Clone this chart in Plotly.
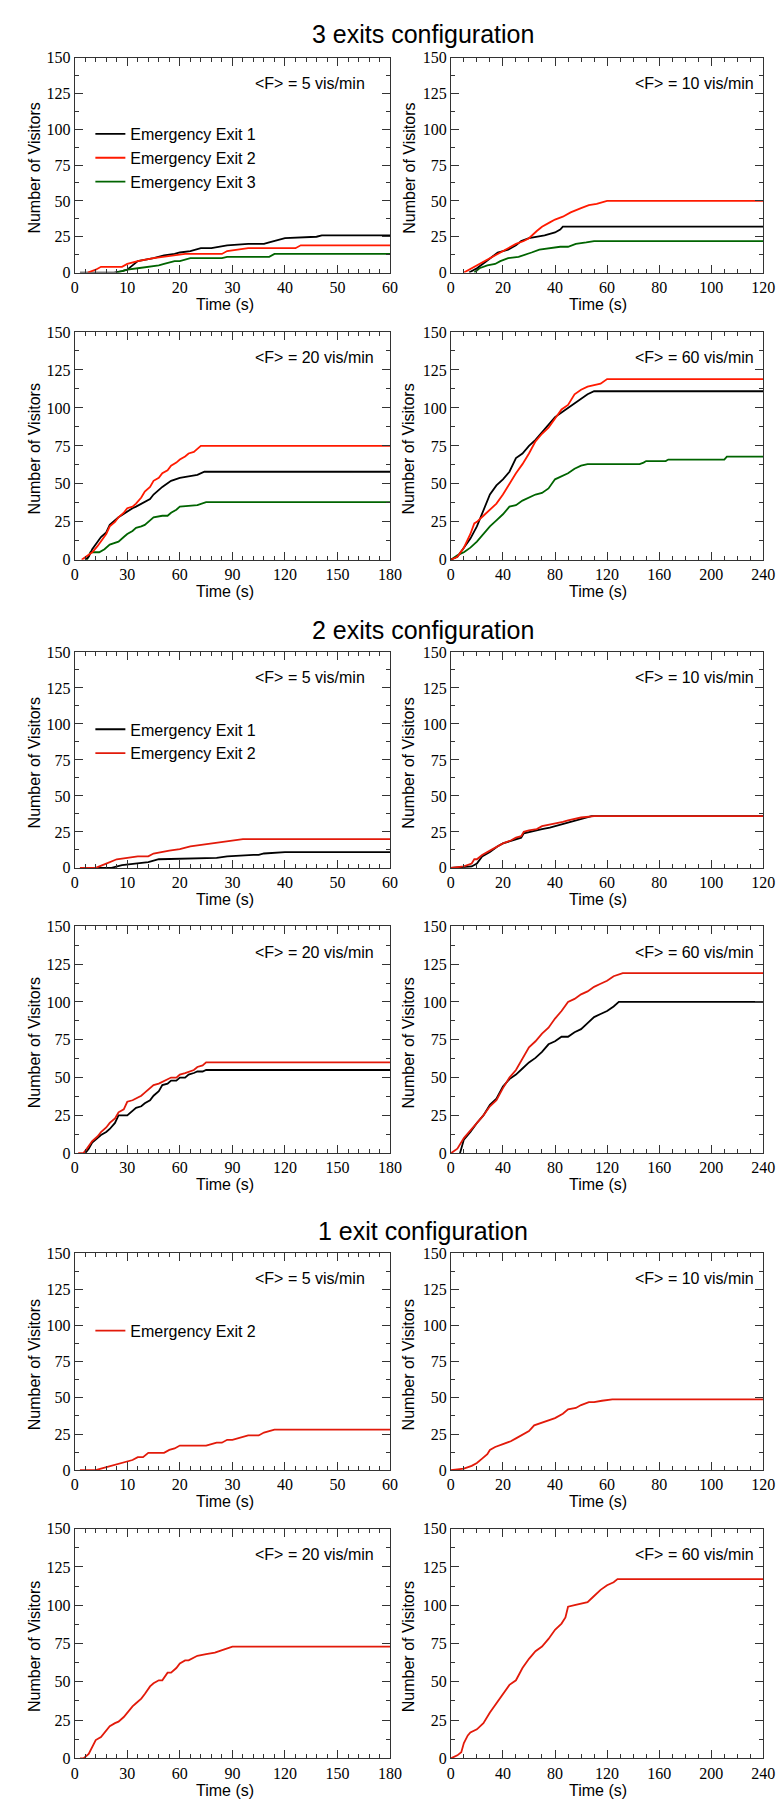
import plotly.graph_objects as go

# ---------------- data ----------------
# 3 exits configuration
C3_F5_E1_t = [1, 7.5, 9, 10, 11, 12, 15, 17, 19, 20, 22, 24, 26, 29, 33, 36, 37, 39, 40, 46, 47, 60]
C3_F5_E1_n = [0, 0, 1, 2, 5, 8, 10, 12, 13, 14, 15, 17, 17, 19, 20, 20, 21, 23, 24, 25, 26, 26]
C3_F5_E2_t = [2.5, 4, 5, 9, 10, 11, 12, 15, 17, 18, 21, 28, 29, 31, 33, 42, 43, 60]
C3_F5_E2_n = [0, 2, 4, 4, 6, 7, 8, 10, 11, 12, 13, 13, 15, 16, 17, 17, 19, 19]
C3_F5_E3_t = [8, 10, 12, 14, 15, 16, 17, 19, 20, 22, 28, 29, 37, 38, 60]
C3_F5_E3_n = [0, 2, 3, 4, 4, 5, 6, 8, 8, 10, 10, 11, 11, 13, 13]

C3_F10_E1_t = [7, 10, 13, 15, 18, 20, 22, 25, 27, 30, 33, 36, 40, 42, 43, 120]
C3_F10_E1_n = [0, 3, 7, 10, 14, 15, 16, 19, 22, 24, 25, 26, 28, 30, 32, 32]
C3_F10_E2_t = [5, 8, 10, 13, 16, 20, 23, 25, 28, 30, 33, 35, 38, 40, 43, 46, 50, 53, 56, 58, 60, 120]
C3_F10_E2_n = [0, 3, 5, 8, 11, 15, 18, 20, 22, 24, 29, 32, 35, 37, 39, 42, 45, 47, 48, 49, 50, 50]
C3_F10_E3_t = [9, 11, 14, 17, 19, 22, 26, 28, 31, 34, 38, 42, 45, 48, 52, 55, 57, 120]
C3_F10_E3_n = [0, 3, 5, 6, 8, 10, 11, 12, 14, 16, 17, 18, 18, 20, 21, 22, 22, 22]

C3_F20_E1_t = [6, 8, 10, 12, 15, 18, 20, 25, 30, 33, 35, 40, 43, 45, 50, 55, 58, 60, 65, 70, 74, 180]
C3_F20_E1_n = [0, 2, 7, 10, 15, 18, 23, 28, 32, 34, 35, 38, 40, 43, 48, 52, 53, 54, 55, 56, 58, 58]
C3_F20_E2_t = [4, 8, 10, 13, 15, 18, 20, 23, 25, 28, 30, 33, 35, 38, 40, 43, 45, 48, 50, 53, 55, 58, 60, 63, 65, 68, 70, 72, 180]
C3_F20_E2_n = [0, 3, 5, 9, 12, 17, 22, 25, 28, 31, 34, 35, 37, 41, 45, 48, 52, 54, 57, 59, 62, 64, 66, 68, 70, 71, 73, 75, 75]
C3_F20_E3_t = [7, 8, 9, 14, 17, 20, 23, 25, 28, 30, 33, 35, 38, 40, 43, 45, 50, 53, 55, 58, 60, 70, 75, 180]
C3_F20_E3_n = [0, 3, 5, 5, 7, 10, 11, 12, 15, 17, 19, 21, 22, 23, 26, 28, 29, 29, 31, 33, 35, 36, 38, 38]

C3_F60_E1_t = [0, 5, 10, 15, 20, 25, 30, 35, 40, 45, 50, 55, 60, 65, 70, 75, 80, 85, 90, 95, 100, 105, 110, 240]
C3_F60_E1_n = [0, 2, 8, 14, 22, 32, 43, 49, 53, 58, 67, 70, 75, 79, 84, 89, 94, 97, 100, 103, 106, 109, 111, 111]
C3_F60_E2_t = [0, 5, 10, 15, 18, 20, 25, 30, 35, 40, 45, 50, 55, 60, 65, 70, 75, 80, 85, 90, 95, 100, 105, 110, 115, 120, 240]
C3_F60_E2_n = [0, 2, 8, 17, 24, 25, 29, 33, 37, 43, 50, 57, 63, 70, 78, 83, 87, 93, 99, 102, 109, 112, 114, 115, 116, 119, 119]
C3_F60_E3_t = [0, 5, 10, 15, 20, 25, 30, 35, 40, 45, 50, 55, 60, 65, 70, 75, 80, 85, 90, 95, 100, 105, 145, 148, 150, 165, 167, 210, 212, 240]
C3_F60_E3_n = [0, 3, 5, 8, 12, 17, 22, 26, 30, 35, 36, 39, 41, 43, 44, 47, 53, 55, 57, 60, 62, 63, 63, 64, 65, 65, 66, 66, 68, 68]

# 2 exits configuration
C2_F5_E1_t = [1, 7, 9, 12, 14, 15, 16, 27, 29, 34, 35, 36, 40, 60]
C2_F5_E1_n = [0, 0, 2, 3, 4, 5, 6, 7, 8, 9, 9, 10, 11, 11]
C2_F5_E2_t = [1, 4, 6, 8, 10, 12, 14, 15, 18, 20, 22, 24, 25, 27, 28, 30, 32, 60]
C2_F5_E2_n = [0, 0, 3, 6, 7, 8, 8, 10, 12, 13, 15, 16, 17, 18, 18, 19, 20, 20]

C2_F10_E1_t = [0, 8, 10, 12, 15, 18, 20, 22, 25, 27, 28, 30, 33, 35, 38, 40, 43, 45, 48, 50, 54, 120]
C2_F10_E1_n = [0, 1, 3, 8, 11, 15, 17, 18, 20, 21, 24, 25, 26, 27, 28, 29, 31, 32, 33, 34, 36, 36]
C2_F10_E2_t = [0, 5, 8, 9, 10, 12, 15, 18, 20, 23, 25, 27, 28, 30, 33, 35, 38, 40, 43, 45, 48, 50, 55, 120]
C2_F10_E2_n = [0, 1, 3, 6, 6, 9, 12, 15, 17, 19, 21, 22, 25, 26, 27, 29, 30, 31, 32, 33, 34, 35, 36, 36]

C2_F20_E1_t = [6, 8, 10, 13, 15, 18, 20, 23, 25, 30, 32, 35, 38, 40, 43, 45, 48, 50, 53, 55, 58, 60, 63, 65, 68, 70, 73, 75, 180]
C2_F20_E1_n = [0, 3, 7, 10, 12, 14, 16, 20, 25, 25, 27, 30, 31, 33, 35, 38, 41, 45, 46, 48, 48, 50, 50, 52, 53, 54, 54, 55, 55]
C2_F20_E2_t = [2, 5, 7, 10, 13, 15, 18, 20, 23, 25, 28, 30, 33, 35, 38, 40, 43, 45, 48, 50, 53, 55, 58, 60, 63, 65, 68, 70, 73, 75, 180]
C2_F20_E2_n = [0, 0, 3, 8, 11, 14, 17, 20, 23, 27, 29, 34, 35, 36, 38, 40, 43, 45, 46, 47, 49, 50, 50, 52, 53, 54, 55, 57, 58, 60, 60]

C2_F60_E1_t = [7, 10, 15, 20, 25, 30, 35, 40, 45, 50, 55, 60, 65, 70, 75, 80, 85, 90, 95, 100, 105, 110, 115, 120, 125, 129, 240]
C2_F60_E1_n = [0, 9, 14, 20, 25, 32, 36, 44, 49, 52, 56, 60, 63, 67, 72, 74, 77, 77, 80, 82, 86, 90, 92, 94, 97, 100, 100]
C2_F60_E2_t = [0, 5, 10, 15, 20, 25, 30, 35, 40, 45, 50, 55, 60, 65, 70, 75, 80, 85, 90, 95, 100, 105, 110, 115, 120, 125, 132, 240]
C2_F60_E2_n = [0, 3, 10, 15, 20, 25, 31, 35, 43, 50, 55, 63, 70, 74, 79, 83, 89, 94, 100, 102, 105, 107, 110, 112, 114, 117, 119, 119]

# 1 exit configuration
C1_F5_E2_t = [1, 4, 5, 7, 9, 10, 11, 12, 13, 14, 17, 18, 19, 20, 25, 26, 27, 28, 29, 30, 31, 32, 33, 35, 36, 37, 38, 60]
C1_F5_E2_n = [0, 0, 1, 3, 5, 6, 7, 9, 9, 12, 12, 14, 15, 17, 17, 18, 19, 19, 21, 21, 22, 23, 24, 24, 26, 27, 28, 28]
C1_F10_E2_t = [0, 5, 8, 10, 12, 14, 15, 17, 20, 23, 25, 28, 30, 32, 35, 38, 40, 43, 45, 48, 50, 53, 55, 58, 62, 120]
C1_F10_E2_n = [0, 1, 3, 5, 8, 11, 14, 16, 18, 20, 22, 25, 27, 31, 33, 35, 36, 39, 42, 43, 45, 47, 47, 48, 49, 49]
C1_F20_E2_t = [3, 5, 8, 10, 12, 15, 18, 20, 23, 25, 28, 30, 33, 35, 38, 40, 43, 45, 48, 50, 53, 55, 58, 60, 63, 65, 68, 70, 75, 80, 85, 90, 180]
C1_F20_E2_n = [0, 0, 3, 8, 12, 14, 18, 21, 23, 24, 27, 30, 34, 36, 39, 42, 47, 49, 51, 51, 56, 56, 59, 62, 64, 64, 66, 67, 68, 69, 71, 73, 73]
C1_F60_E2_t = [0, 5, 8, 10, 13, 15, 20, 25, 30, 35, 40, 45, 50, 55, 60, 65, 70, 75, 80, 85, 88, 90, 95, 100, 105, 110, 115, 120, 125, 128, 240]
C1_F60_E2_n = [0, 2, 4, 10, 15, 17, 19, 23, 30, 36, 42, 48, 51, 59, 65, 70, 73, 78, 84, 88, 92, 99, 100, 101, 102, 106, 110, 113, 115, 117, 117]

SECTION_TITLES = ["3 exits configuration", "2 exits configuration", "1 exit configuration"]
RATES = [5, 10, 20, 60]
X_MAX = [60, 120, 180, 240]
X_DTICK = [10, 20, 30, 40]
X_MINOR = [2, 5, 6, 10]
EXIT_NAMES = ["Emergency Exit 1", "Emergency Exit 2", "Emergency Exit 3"]

# ---------------- layout helpers ----------------
W, H = 784, 1803
COLS = [(64, 386), (448, 767)]
ROWS = [(42, 259), (319, 549), (642, 860), (919, 1148), (1249, 1468), (1527, 1759)]
SECTION_Y = [18, 620, 1227]
F_X = [246, 634]
YT_X = [23, 405]
XT_X = [217, 598]
LEGEND_TOP = [102, 703, 1310]

SERIF = "Liberation Serif, Times New Roman, DejaVu Serif, serif"
SANS = "Liberation Sans, Arial, sans-serif"

def px(x):
    return x / W

def py(y):
    return 1 - y / H

RED3 = "#ff1a00"
RED = "#e21a0a"
BLACK = "#000000"
GREEN = "#006400"

panels = [
    (0, 0, [(C3_F5_E1_t, C3_F5_E1_n, 0, BLACK), (C3_F5_E2_t, C3_F5_E2_n, 1, RED3), (C3_F5_E3_t, C3_F5_E3_n, 2, GREEN)]),
    (0, 1, [(C3_F10_E3_t, C3_F10_E3_n, 2, GREEN), (C3_F10_E1_t, C3_F10_E1_n, 0, BLACK), (C3_F10_E2_t, C3_F10_E2_n, 1, RED3)]),
    (0, 2, [(C3_F20_E3_t, C3_F20_E3_n, 2, GREEN), (C3_F20_E1_t, C3_F20_E1_n, 0, BLACK), (C3_F20_E2_t, C3_F20_E2_n, 1, RED3)]),
    (0, 3, [(C3_F60_E3_t, C3_F60_E3_n, 2, GREEN), (C3_F60_E1_t, C3_F60_E1_n, 0, BLACK), (C3_F60_E2_t, C3_F60_E2_n, 1, RED3)]),
    (1, 0, [(C2_F5_E1_t, C2_F5_E1_n, 0, BLACK), (C2_F5_E2_t, C2_F5_E2_n, 1, RED)]),
    (1, 1, [(C2_F10_E1_t, C2_F10_E1_n, 0, BLACK), (C2_F10_E2_t, C2_F10_E2_n, 1, RED)]),
    (1, 2, [(C2_F20_E1_t, C2_F20_E1_n, 0, BLACK), (C2_F20_E2_t, C2_F20_E2_n, 1, RED)]),
    (1, 3, [(C2_F60_E1_t, C2_F60_E1_n, 0, BLACK), (C2_F60_E2_t, C2_F60_E2_n, 1, RED)]),
    (2, 0, [(C1_F5_E2_t, C1_F5_E2_n, 1, RED)]),
    (2, 1, [(C1_F10_E2_t, C1_F10_E2_n, 1, RED)]),
    (2, 2, [(C1_F20_E2_t, C1_F20_E2_n, 1, RED)]),
    (2, 3, [(C1_F60_E2_t, C1_F60_E2_n, 1, RED)]),
]

fig = go.Figure()
annotations = []
layout = {}
legend_names = ["legend", "legend2", "legend3"]

for i, (sec, ri, series) in enumerate(panels):
    col = ri % 2
    row = sec * 2 + ri // 2
    x0, x1 = COLS[col]
    y0, y1 = ROWS[row]
    k = "" if i == 0 else str(i + 1)
    xa, ya = "x" + k, "y" + k
    order = sorted(series, key=lambda s: s[2]) if ri == 0 else series
    for (t, n, ei, color) in order:
        fig.add_trace(go.Scatter(
            x=t, y=n, mode="lines", name=EXIT_NAMES[ei],
            line=dict(color=color, width=1.8),
            xaxis=xa, yaxis=ya,
            showlegend=(ri == 0),
            legend=legend_names[sec],
        ))
    axis_common = dict(
        showline=True, linecolor="#333", linewidth=1, mirror="ticks",
        ticks="inside", ticklen=8, tickcolor="#333", tickwidth=1,
        showgrid=False, zeroline=False,
        tickfont=dict(family=SERIF, size=16, color="#000"),
    )
    layout["xaxis" + k] = dict(
        axis_common, domain=[px(x0), px(x1)], anchor=ya,
        range=[0, X_MAX[ri]], dtick=X_DTICK[ri], tick0=0,
        minor=dict(dtick=X_MINOR[ri], ticks="inside", ticklen=4, tickcolor="#333", showgrid=False),
    )
    layout["yaxis" + k] = dict(
        axis_common, domain=[py(y1), py(y0)], anchor=xa,
        range=[0, 150], dtick=25, tick0=0,
        minor=dict(dtick=12.5, ticks="inside", ticklen=4, tickcolor="#333", showgrid=False),
    )
    annotations.append(dict(
        text=f"&lt;F&gt; = {RATES[ri]} vis/min", x=px(F_X[col]), y=py(y0 + 26),
        xref="paper", yref="paper", xanchor="left", yanchor="middle", showarrow=False,
        font=dict(family=SANS, size=16, color="#000"),
    ))
    annotations.append(dict(
        text="Number of Visitors", x=px(YT_X[col]), y=py((y0 + y1) / 2 + 3),
        xref="paper", yref="paper", xanchor="center", yanchor="middle", textangle=-90,
        showarrow=False, font=dict(family=SANS, size=16, color="#000"),
    ))
    annotations.append(dict(
        text="Time (s)", x=px(XT_X[col]), y=py(y1 + 32),
        xref="paper", yref="paper", xanchor="center", yanchor="middle",
        showarrow=False, font=dict(family=SANS, size=16, color="#000"),
    ))

for s, title in enumerate(SECTION_TITLES):
    annotations.append(dict(
        text=title, x=px(420), y=py(SECTION_Y[s]), xref="paper", yref="paper",
        xanchor="center", yanchor="middle", showarrow=False,
        font=dict(family=SANS, size=25, color="#000"),
    ))

for s, name in enumerate(legend_names):
    layout[name] = dict(
        x=px(80), y=py(LEGEND_TOP[s]), xanchor="left", yanchor="top",
        bgcolor="rgba(0,0,0,0)", borderwidth=0,
        font=dict(family=SANS, size=16, color="#000"),
        itemwidth=30,
    )

fig.update_layout(
    width=W, height=H, margin=dict(l=0, r=0, t=0, b=0),
    paper_bgcolor="white", plot_bgcolor="white",
    annotations=annotations, showlegend=True,
    **layout,
)

fig.write_html("out.html")
